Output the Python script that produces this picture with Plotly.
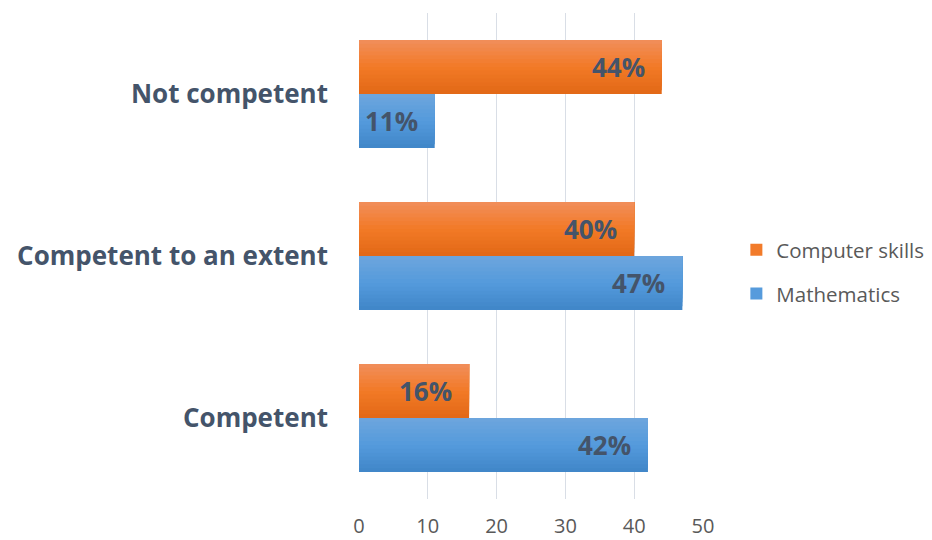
import plotly.graph_objects as go

# Survey results: self-rated competence (percent of respondents)
categories = ["Competent", "Competent to an extent", "Not competent"]  # bottom -> top
computer_skills = [16, 40, 44]
mathematics = [42, 47, 11]

series = [
    # name, values, gradient stops (bottom, middle, top), side relative to category centre
    ("Computer skills", computer_skills, [(226, 104, 22), (242, 122, 38), (241, 142, 92)], "upper"),
    ("Mathematics", mathematics, [(64, 134, 200), (84, 154, 220), (110, 166, 221)], "lower"),
]

BAR_H = 1 / 3      # thickness of each bar, in category units
N_STRIPES = 14     # bands used to shade each bar top-to-bottom
LABEL_COLOR = "#44546A"
TEXT_GRAY = "#595959"
FONT = "Open Sans"


def blend(stops, t):
    """Colour along a 3-stop gradient, t in [0, 1] from bottom to top."""
    if t <= 0.5:
        a, b, u = stops[0], stops[1], t / 0.5
    else:
        a, b, u = stops[1], stops[2], (t - 0.5) / 0.5
    r, g, bl = (round(a[i] + (b[i] - a[i]) * u) for i in range(3))
    return f"rgb({r},{g},{bl})"


fig = go.Figure()

for rank, (name, values, stops, side) in enumerate(series):
    base = 0.0 if side == "upper" else -BAR_H
    for k in range(N_STRIPES):
        # each band covers the bar from its own level up to the top edge,
        # so successive bands paint a smooth vertical shading
        frac = k / N_STRIPES
        fig.add_trace(go.Bar(
            y=categories,
            x=values,
            orientation="h",
            offset=base + frac * BAR_H,
            width=BAR_H * (1 - frac),
            marker=dict(color=blend(stops, (k + 0.5) / N_STRIPES), line=dict(width=0)),
            name=name,
            legendgroup=name,
            legendrank=rank,
            showlegend=(k == N_STRIPES // 2),
            hoverinfo="skip",
        ))

# value labels just inside the end of each bar
annotations = []
for name, values, stops, side in series:
    shift = 27 if side == "upper" else -27
    for cat, v in zip(categories, values):
        annotations.append(dict(
            x=v, y=cat, xref="x", yref="y",
            text=f"{v}%", showarrow=False,
            xanchor="right", yanchor="middle",
            xshift=-15, yshift=shift,
            font=dict(family=FONT, size=26, color=LABEL_COLOR, weight="bold"),
        ))

fig.update_layout(
    width=932, height=540,
    margin=dict(l=359, r=229, t=13, b=41, autoexpand=False),
    paper_bgcolor="white",
    plot_bgcolor="white",
    barmode="overlay",
    showlegend=True,
    legend=dict(
        x=1.097, y=0.467, xanchor="left", yanchor="middle",
        traceorder="grouped", tracegroupgap=14,
        font=dict(family=FONT, size=20.5, color=TEXT_GRAY),
        itemwidth=30,
    ),
    annotations=annotations,
    hovermode=False,
)

fig.update_xaxes(
    range=[0, 50],
    tickvals=[0, 10, 20, 30, 40, 50],
    showgrid=True, gridcolor="#D9DEE6", gridwidth=1,
    zeroline=False, showline=False,
    ticks="", ticklabelstandoff=13, automargin=False,
    tickfont=dict(family=FONT, size=20, color=TEXT_GRAY),
)

fig.update_yaxes(
    type="category",
    categoryorder="array", categoryarray=categories,
    range=[-0.5, 2.5],
    showgrid=False, zeroline=False, showline=False,
    ticks="", ticklabelstandoff=30, automargin=False,
    tickfont=dict(family=FONT, size=26, color=LABEL_COLOR, weight="bold"),
)

fig.write_html("out.html", config={"displayModeBar": False})
